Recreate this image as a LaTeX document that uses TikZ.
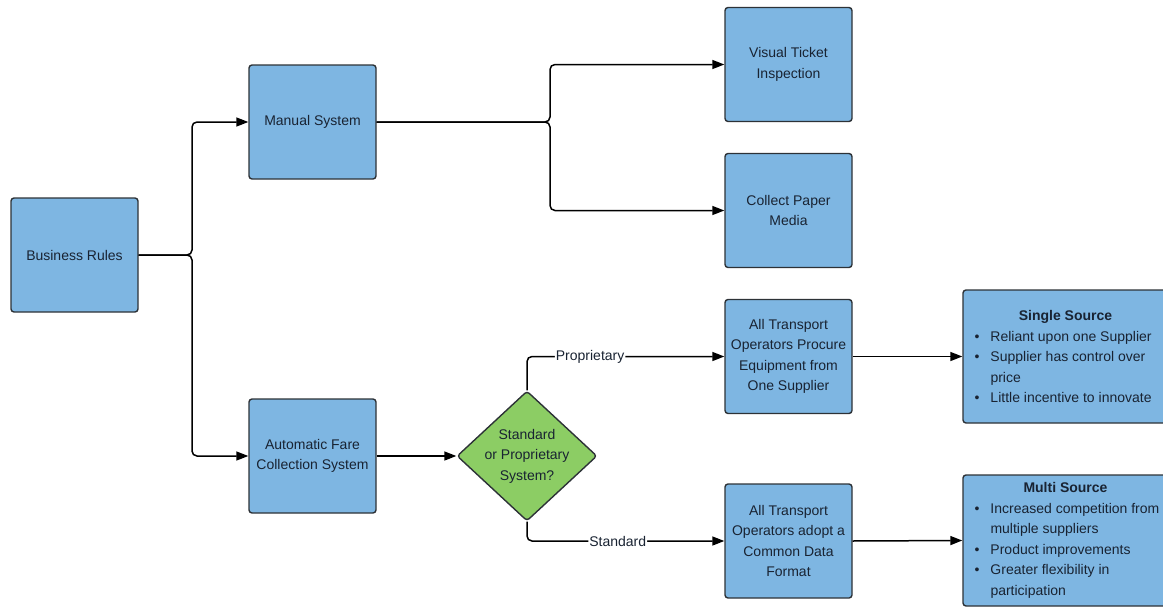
\documentclass[tikz,border=0pt]{standalone}
\usepackage{fontspec}
\setmainfont{Liberation Sans}
\usetikzlibrary{shapes.geometric, arrows.meta}

\definecolor{boxblue}{RGB}{126,182,226}
\definecolor{decgreen}{RGB}{140,205,100}
\definecolor{edgegrey}{RGB}{45,50,55}
\definecolor{textnavy}{RGB}{25,35,50}

% bullet line and continuation line for the source boxes
\newcommand{\srcbullet}{\makebox[21pt][l]{\hspace{5pt}\textbullet}}
\newcommand{\srcindent}{\hspace*{21pt}}

\begin{document}
\begin{tikzpicture}[x=1pt, y=-1pt,
    font=\fontsize{14}{20.5}\selectfont,
    block/.style={draw=edgegrey, line width=1.4pt, fill=boxblue, rounded corners=3pt,
      minimum width=127pt, minimum height=114pt, align=center, text=textnavy, inner sep=0pt},
    srcbox/.style={block, minimum width=205pt, align=left},
    decision/.style={diamond, draw=edgegrey, line width=1.4pt, fill=decgreen,
      minimum width=140pt, minimum height=130pt, inner sep=0pt, rounded corners=3pt},
    link/.style={line width=1.5pt, rounded corners=5pt, -{Triangle[length=12pt, width=9pt]}},
    tag/.style={fill=white, inner sep=1pt, text=textnavy}]

  % Page frame
  \clip (0,0) rectangle (1163,608);

  % Left column
  \node[block] (rules) at (74.5,255) {Business Rules};
  \node[block] (manual) at (312.5,122) {Manual System};
  \node[block] (afc) at (312.5,456) {Automatic Fare\\Collection System};

  % Manual branch
  \node[block] (visual) at (788.5,64.5) {Visual Ticket\\Inspection};
  \node[block] (paper) at (788.5,210.5) {Collect Paper\\Media};

  % Automatic branch
  \node[decision] (dec) at (527,456) {};
  \node[align=center, text=textnavy] (dectext) at (dec) {Standard\\or Proprietary\\System?};
  \node[block] (procure) at (788.5,356.5) {All Transport\\Operators Procure\\Equipment from\\One Supplier};
  \node[block] (adopt) at (788.5,541) {All Transport\\Operators adopt a\\Common Data\\Format};

  % Outcomes
  \node[srcbox, minimum height=133pt] (single) at (1065.5,356.5) {%
    \makebox[192pt]{\bfseries Single Source}\\
    \srcbullet Reliant upon one Supplier\\
    \srcbullet Supplier has control over\\
    \srcindent price\\
    \srcbullet Little incentive to innovate};
  \node[srcbox, minimum height=131pt] (multi) at (1065.5,540.5) {%
    \makebox[192pt]{\bfseries Multi Source}\\
    \srcbullet Increased competition from\\
    \srcindent multiple suppliers\\
    \srcbullet Product improvements\\
    \srcbullet Greater flexibility in\\
    \srcindent participation};

  % Connectors
  \coordinate (rsplit) at (192,255);
  \draw[link] (rules.east) -- (rsplit) |- (manual.west);
  \draw[link] (rules.east) -- (rsplit) |- (afc.west);

  \coordinate (msplit) at (550,122);
  \draw[link] (manual.east) -- (msplit) |- (visual.west);
  \draw[link] (manual.east) -- (msplit) |- (paper.west);

  \draw[link] (afc.east) -- (dec.west);
  \draw[link] (dec.north) |- node[tag, pos=0.66] (proptag) {Proprietary} (procure.west);
  \draw[link] (dec.south) |- node[tag, pos=0.73] (stdtag) {Standard} (adopt.west);

  \draw[link] (procure.east) -- (single.west);
  \draw[link] (adopt.east) -- (multi.west);
\end{tikzpicture}
\end{document}
